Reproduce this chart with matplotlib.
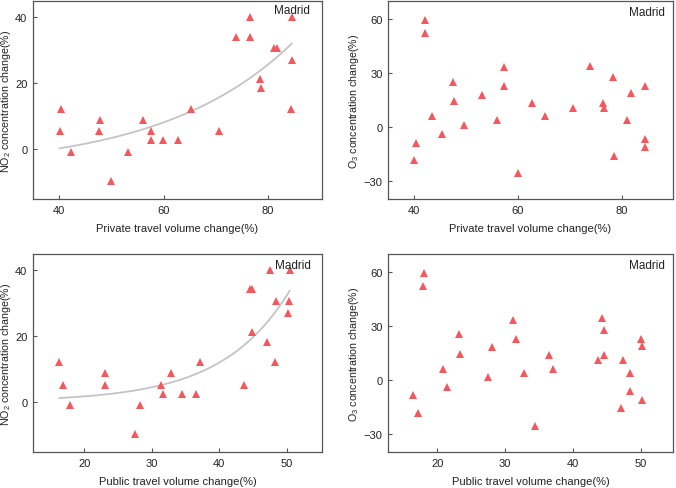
import numpy as np
import matplotlib
matplotlib.use("Agg")
import matplotlib.pyplot as plt

plt.rcParams['font.family'] = ['Liberation Sans', 'DejaVu Sans']
plt.rcParams['mathtext.fontset'] = 'custom'
plt.rcParams['mathtext.rm'] = 'Liberation Sans'
plt.rcParams['mathtext.it'] = 'Liberation Sans:italic'

# ---- Data ----
private_no2_x = [40.4, 40.1, 42.3, 47.7, 47.8, 49.9, 53.2, 56.1, 57.5, 57.5, 59.9, 62.7,
                 65.2, 70.6, 73.9, 76.6, 76.5, 78.4, 78.7, 81.1, 81.7, 84.5, 84.5, 84.4]
private_no2_y = [12.0, 5.3, -0.9, 5.3, 8.7, -9.7, -0.9, 8.7, 5.3, 2.5, 2.5, 2.5,
                 12.0, 5.3, 34.0, 40.1, 34.0, 21.1, 18.3, 30.6, 30.6, 40.1, 27.1, 12.0]

private_o3_x = [40.0, 40.3, 42.2, 42.1, 43.4, 45.3, 47.5, 47.6, 49.6, 53.1, 56.0, 57.3, 57.4, 60.0,
                62.6, 65.2, 70.6, 73.8, 76.4, 76.5, 78.3, 78.5, 81.0, 81.7, 84.4, 84.5, 84.5]
private_o3_y = [-18.5, -8.9, 59.0, 51.8, 6.3, -4.1, 25.1, 14.4, 1.3, 17.9, 3.9, 33.3, 22.7, -25.5,
                13.1, 6.1, 10.7, 34.0, 13.1, 10.5, 27.5, -15.9, 3.7, 18.7, -6.5, -11.1, 22.7]

public_no2_x = [16.3, 16.9, 17.9, 23.1, 23.1, 27.5, 28.2, 31.3, 31.6, 32.8, 34.4, 36.5,
                37.1, 43.7, 44.5, 44.8, 44.8, 47.1, 47.5, 48.3, 48.4, 50.1, 50.3, 50.4]
public_no2_y = [12.1, 5.3, -0.9, 8.8, 5.3, -9.7, -0.9, 5.3, 2.6, 8.8, 2.6, 2.6,
                12.1, 5.3, 34.1, 34.1, 21.1, 18.3, 40.0, 12.1, 30.5, 27.1, 30.5, 40.0]

public_o3_x = [16.5, 17.1, 18.0, 17.9, 20.8, 21.4, 23.2, 23.3, 27.5, 28.1, 31.2, 31.6, 32.8, 34.4,
               36.4, 37.0, 43.6, 44.2, 44.5, 44.6, 47.4, 47.1, 48.3, 48.4, 50.0, 50.1, 50.2]
public_o3_y = [-8.7, -18.4, 59.4, 52.2, 6.1, -4.1, 25.3, 14.5, 1.3, 18.0, 33.4, 22.7, 3.7, -25.6,
               13.4, 6.1, 11.0, 34.2, 13.4, 27.5, 11.0, -16.0, -6.3, 3.7, 22.7, 18.6, -11.3]

# exponential fit curves y = c + A*exp(b*x)
private_fit = dict(A=1.305, b=0.04, c=-6.39)
public_fit = dict(A=0.2167, b=0.1, c=0.19)

city = "Madrid"
marker_color = '#f5575e'
frame_color = '#555555'
text_color = '#222222'

fig = plt.figure(figsize=(6.76, 4.89), dpi=100)

W, H = 676, 489
def ax_rect(l, t, r, b):
    return [l / W, 1 - b / H, (r - l) / W, (b - t) / H]

panels = [
    dict(rect=ax_rect(33, 2, 322, 200), x=private_no2_x, y=private_no2_y, fit=private_fit,
         xlim=(35, 90.3), ylim=(-15.3, 44.9), xticks=[40, 60, 80], yticks=[0, 20, 40],
         xlabel='Private travel volume change(%)', ylabel='NO$_2$ concentration change(%)',
         city_xy=(291.7, 11), ylab_x=-0.07),
    dict(rect=ax_rect(388, 2, 673, 200), x=private_o3_x, y=private_o3_y, fit=None,
         xlim=(35, 89.8), ylim=(-40, 69.8), xticks=[40, 60, 80], yticks=[-30, 0, 30, 60],
         xlabel='Private travel volume change(%)', ylabel='O$_3$ concentration change(%)',
         city_xy=(647, 12.7), ylab_x=-0.095),
    dict(rect=ax_rect(33, 255, 322, 453.3), x=public_no2_x, y=public_no2_y, fit=public_fit,
         xlim=(12.4, 55.2), ylim=(-15.1, 44.8), xticks=[20, 30, 40, 50], yticks=[0, 20, 40],
         xlabel='Public travel volume change(%)', ylabel='NO$_2$ concentration change(%)',
         city_xy=(293, 265.7), ylab_x=-0.07),
    dict(rect=ax_rect(388, 255, 673, 453.3), x=public_o3_x, y=public_o3_y, fit=None,
         xlim=(12.75, 54.7), ylim=(-40.4, 69.8), xticks=[20, 30, 40, 50], yticks=[-30, 0, 30, 60],
         xlabel='Public travel volume change(%)', ylabel='O$_3$ concentration change(%)',
         city_xy=(647, 265.7), ylab_x=-0.095),
]

for p in panels:
    ax = fig.add_axes(p['rect'])
    x = np.array(p['x']); y = np.array(p['y'])
    if p['fit'] is not None:
        f = p['fit']
        xs = np.linspace(x.min(), x.max(), 200)
        ax.plot(xs, f['c'] + f['A'] * np.exp(f['b'] * xs), color='#c4c4c4', lw=1.3, zorder=1)
    ax.plot(x, y, linestyle='none', marker='^', markersize=6.2, color=marker_color,
            markeredgewidth=0, zorder=2)
    ax.set_xlim(*p['xlim']); ax.set_ylim(*p['ylim'])
    ax.set_xticks(p['xticks']); ax.set_yticks(p['yticks'])
    ax.tick_params(direction='in', length=3, width=0.8, color=frame_color,
                   labelsize=8, labelcolor=text_color, pad=4)
    for s in ax.spines.values():
        s.set_color(frame_color); s.set_linewidth(0.9)
    ax.set_xlabel(p['xlabel'], fontsize=8, color=text_color, labelpad=6)
    ax.set_ylabel(p['ylabel'], fontsize=7.7, color=text_color)
    ax.yaxis.set_label_coords(p['ylab_x'], 0.5)
    cx, cy = p['city_xy']
    fig.text(cx / W, 1 - cy / H, city, ha='center', va='center', fontsize=8.5, color=text_color)

fig.savefig('out.png', dpi=100)
